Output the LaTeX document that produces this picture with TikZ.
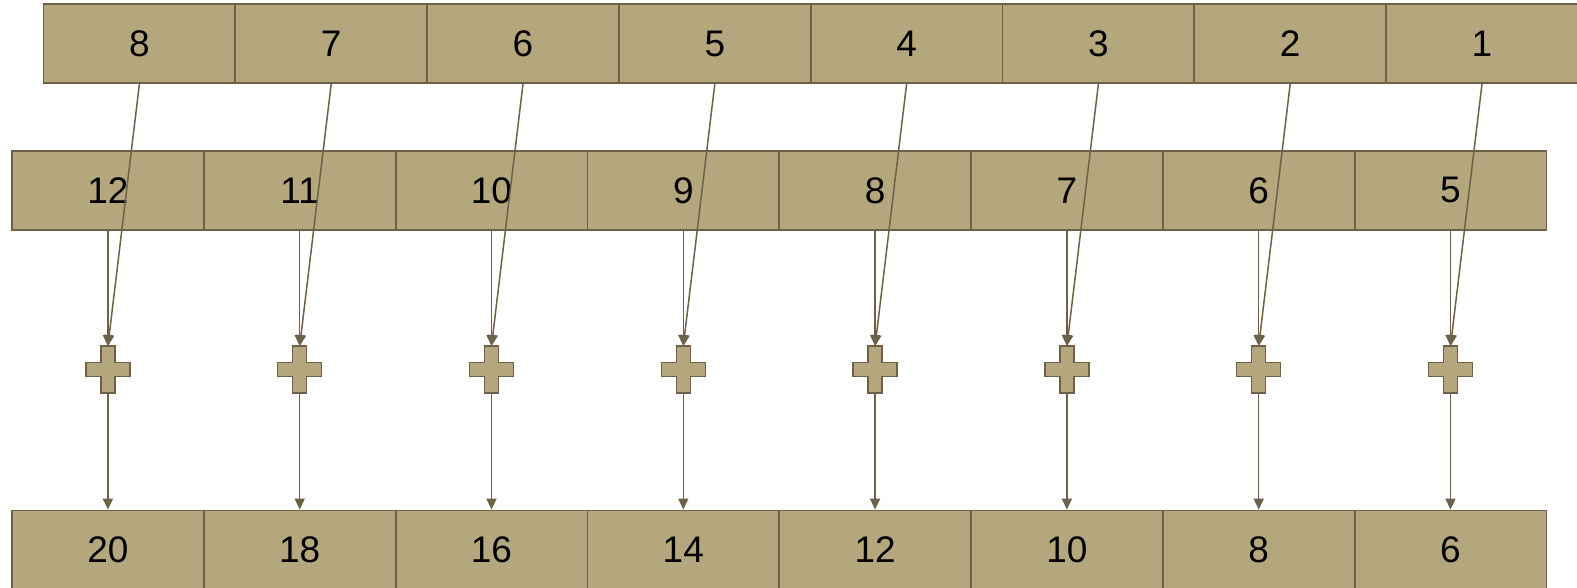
\documentclass[tikz,border=0pt]{standalone}
\usepackage{fontspec}
\setmainfont{Liberation Sans}
\usetikzlibrary{arrows.meta}
\definecolor{cellfill}{RGB}{180,167,126}
\definecolor{cellline}{RGB}{110,97,72}
\tikzset{
  cell/.style={draw=cellline, fill=cellfill, line width=1.8pt,
    minimum width=191.8pt, minimum height=79pt, inner sep=0pt,
    font=\fontsize{37}{40}\selectfont, text=black},
  plusnode/.style={minimum width=44pt, minimum height=47pt, inner sep=0pt},
  crossshape/.style={draw=cellline, fill=cellfill, line width=1.5pt, line join=miter},
  link/.style={draw=cellline, line width=1.5pt,
    -{Triangle[length=11pt,width=10pt]}},
}
\begin{document}
\begin{tikzpicture}[x=1pt, y=-1pt]
\useasboundingbox (0,0) rectangle (1577,587);
\clip (0,0) rectangle (1577,587);
% middle row: values 12 ... 5
\foreach \v [count=\i] in {12,11,10,9,8,7,6,5}
  \node[cell] (m\i) at ({12+95.9+191.8*(\i-1)}, 190.3) {\v};
% top row: values 8 ... 1
\foreach \v [count=\i] in {8,7,6,5,4,3,2,1}
  \node[cell] (t\i) at ({43.5+95.9+191.8*(\i-1)}, 43.5) {\v};
% bottom row: sums
\foreach \v [count=\i] in {20,18,16,14,12,10,8,6}
  \node[cell] (b\i) at ({12+95.9+191.8*(\i-1)}, 550) {\v};
% adders
\foreach \i in {1,...,8} {
  \node[plusnode] (p\i) at ({12+95.9+191.8*(\i-1)}, 369.7) {};
  \path[crossshape] (p\i.center)
    ++(-7,-23.5) -- ++(14,0) -- ++(0,16.5) -- ++(15,0) -- ++(0,14)
    -- ++(-15,0) -- ++(0,16.5) -- ++(-14,0) -- ++(0,-16.5) -- ++(-15,0)
    -- ++(0,-14) -- ++(15,0) -- cycle;
}
% connectors
\foreach \i in {1,...,8} {
  \draw[link] (m\i.south) -- (p\i.north);
  \draw[link] (t\i.south) -- (p\i.north);
  \draw[link] (p\i.south) -- (b\i.north);
}
\end{tikzpicture}
\end{document}
